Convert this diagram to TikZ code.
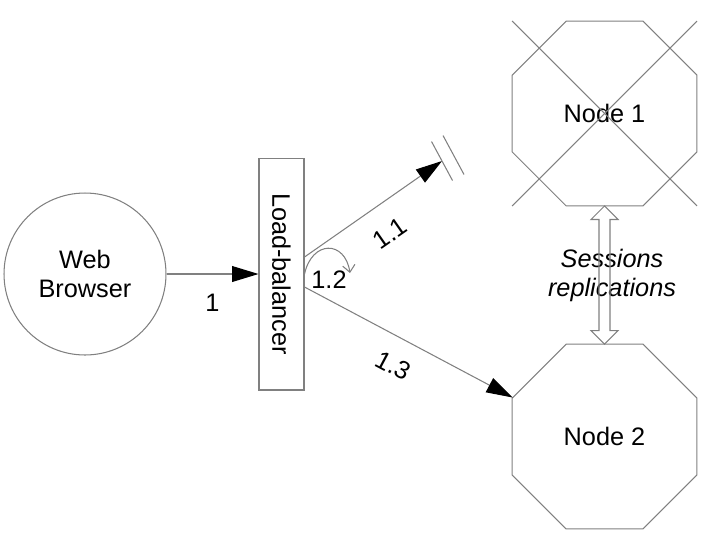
\documentclass[tikz,border=0pt]{standalone}
\usepackage{graphicx}
\usepackage{fontspec}
\setmainfont{Liberation Sans}
\usetikzlibrary{arrows.meta, calc, shapes.geometric}

\begin{document}
\begin{tikzpicture}[x=0.02cm, y=-0.02cm, line width=0.6pt, >={Triangle[length=15pt, width=9pt, color=black]},
    every node/.style={font=\fontsize{14.4}{16.5}\selectfont},
    conn/.style={->, draw=gray},
    server/.style={regular polygon, regular polygon sides=8, draw=gray, minimum size=4.004cm, inner sep=0pt, outer sep=0pt}]
    \useasboundingbox (0,0) rectangle (709,548);

    % Nodes
    \node[circle, draw=gray, minimum size=3.24cm, inner sep=0pt, align=center] (browser) at (85,274) {Web\\Browser};
    \node[rectangle, draw=gray, minimum width=0.9cm, minimum height=4.64cm, inner sep=0pt] (lb) at (281.5,274) {\rotatebox{-90}{Load-balancer}};
    \node[server] (node1) at (604.5,113.5) {Node 1};
    \node[server] (node2) at (604.5,436.5) {Node 2};
    \node[align=center, font=\fontsize{14.4}{16.5}\selectfont\itshape] (repl) at (612,275) {Sessions\\replications};
    \node (selflbl) at (329,280) {1.2};
    \coordinate (cut) at (442,161);
    \coordinate (loopend) at (350,273);

    % Directed edges
    \draw[conn] (browser) -- (lb) node[midway, below=8pt] {1};
    \draw[conn] ($(lb.east)+(0,-17)$) -- (cut) node[pos=0.5, sloped, below=8pt] {1.1};
    \draw[conn] ($(lb.east)+(0,13)$) -- (node2.157.5) node[pos=0.49, sloped, below=7pt] {1.3};
    \draw[-{Straight Barb[length=4pt, width=7pt]}, draw=gray] (lb.east) .. controls (312,240) and (345,240) .. (loopend);

    % Broken link, node 1 down
    \draw[gray] ($(cut)+(-10.5,-19.5)$) -- ($(cut)+(10.5,19.5)$);
    \draw[gray] ($(cut)+(1,-25.5)$) -- ($(cut)+(22,13.5)$);
    \draw[gray] (node1.west |- node1.north) -- (node1.east |- node1.south);
    \draw[gray] (node1.east |- node1.north) -- (node1.west |- node1.south);

    % Replication
    \draw[gray] (node1.south) -- ++(13.5,13.5) -- ++(-8,0) -- ($(node2.north)+(5.5,-13.5)$) -- ++(8,0) -- (node2.north)
        -- ++(-13.5,-13.5) -- ++(8,0) -- ($(node1.south)+(-5.5,13.5)$) -- ++(-8,0) -- cycle;
\end{tikzpicture}
\end{document}
